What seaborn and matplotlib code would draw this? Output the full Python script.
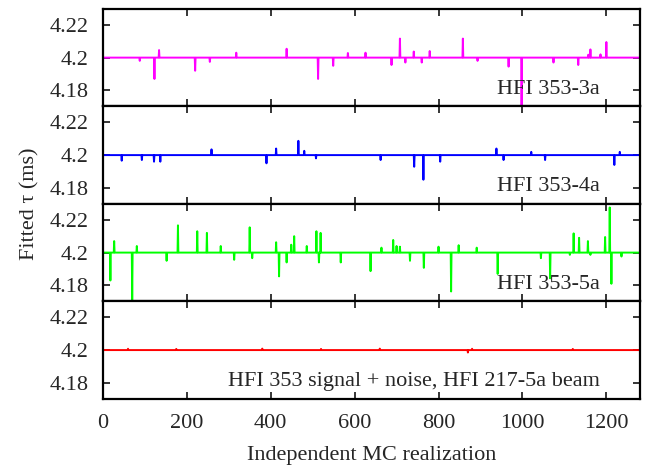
import numpy as np
import pandas as pd
import matplotlib
matplotlib.use("Agg")
import matplotlib.pyplot as plt
import seaborn as sns

# ---------------- data ----------------
n_real = 1280
baseline = 4.2

# HFI 353-3a
idx_3a = [88, 123, 134, 220, 255, 318, 438, 513, 549, 584, 626, 688, 708, 721, 741,
          760, 779, 858, 893, 967, 998, 1074, 1133, 1157, 1162, 1186, 1200]
val_3a = [4.198, 4.187, 4.2046, 4.192, 4.1974, 4.203, 4.2054, 4.187, 4.195, 4.2028,
          4.203, 4.1955, 4.2116, 4.197, 4.2037, 4.197, 4.204, 4.2116, 4.198, 4.1945,
          4.165, 4.197, 4.1955, 4.2018, 4.205, 4.202, 4.2095]

# HFI 353-4a
idx_4a = [45, 93, 122, 137, 259, 390, 413, 466, 480, 508, 662, 742, 764, 804, 938,
          955, 1021, 1054, 1219, 1232]
val_4a = [4.1966, 4.197, 4.196, 4.196, 4.2035, 4.195, 4.204, 4.2087, 4.2026, 4.198,
          4.197, 4.1929, 4.185, 4.196, 4.204, 4.197, 4.202, 4.197, 4.194, 4.202]

# HFI 353-5a
idx_5a = [18, 27, 70, 81, 152, 179, 225, 248, 281, 313, 350, 356, 413, 420, 438, 449,
          456, 486, 509, 515, 519, 567, 638, 664, 692, 700, 708, 732, 765, 800, 830,
          848, 891, 941, 1044, 1066, 1113, 1122, 1135, 1156, 1162, 1197, 1208, 1212, 1236]
val_5a = [4.183, 4.207, 4.171, 4.204, 4.195, 4.2166, 4.213, 4.212, 4.204, 4.1956,
          4.2154, 4.1966, 4.2063, 4.1855, 4.194, 4.2048, 4.21, 4.204, 4.213, 4.194,
          4.212, 4.194, 4.1887, 4.203, 4.2077, 4.204, 4.2036, 4.195, 4.1907, 4.2036,
          4.1763, 4.2045, 4.203, 4.187, 4.1966, 4.1843, 4.1986, 4.2117, 4.209, 4.207,
          4.1986, 4.2095, 4.2275, 4.181, 4.1976]

# HFI 353 signal + noise, HFI 217-5a beam
idx_217 = [60, 175, 380, 520, 660, 870, 880, 1120]
val_217 = [4.2008, 4.2007, 4.2009, 4.2007, 4.2009, 4.1985, 4.2008, 4.2007]

labels = ["HFI 353-3a", "HFI 353-4a", "HFI 353-5a",
          "HFI 353 signal + noise, HFI 217-5a beam"]
colors = ["#ff00ff", "#0000ff", "#00ff00", "#ff0000"]
spike_idx = [idx_3a, idx_4a, idx_5a, idx_217]
spike_val = [val_3a, val_4a, val_5a, val_217]

y_ticks = [4.18, 4.2, 4.22]
y_tick_labels = ["4.18", "4.2", "4.22"]
x_ticks = [0, 200, 400, 600, 800, 1000, 1200]

# ---------------- figure ----------------
sns.set_style("ticks")
plt.rcParams["font.family"] = ["Liberation Serif", "DejaVu Serif"]

fig, axes = plt.subplots(4, 1, figsize=(6.55, 4.67), dpi=100, sharex=True)
fig.subplots_adjust(left=0.157, right=0.977, top=0.981, bottom=0.146, hspace=0)

x = np.arange(n_real)
for ax, lab, col, si, sv in zip(axes, labels, colors, spike_idx, spike_val):
    y = np.full(n_real, baseline)
    y[np.array(si)] = np.array(sv)
    df = pd.DataFrame({"realization": x, "tau": y})
    sns.lineplot(data=df, x="realization", y="tau", ax=ax, color=col,
                 linewidth=1.4, estimator=None, legend=False)
    ax.set_xlim(0, 1280)
    ax.set_ylim(4.1703, 4.2297)
    ax.set_yticks(y_ticks)
    ax.set_yticklabels(y_tick_labels)
    ax.set_xticks(x_ticks)
    ax.set_xlabel("")
    ax.set_ylabel("")
    ax.tick_params(direction="in", top=True, right=True, length=5, width=1.3,
                   labelsize=16)
    ax.tick_params(axis="y", pad=10)
    ax.tick_params(axis="x", pad=11)
    for s in ax.spines.values():
        s.set_linewidth(1.6)
        s.set_color("black")
    ax.text(0.925, 0.175, lab, transform=ax.transAxes, ha="right", va="center",
            fontsize=16)

axes[-1].set_xlabel("Independent MC realization", fontsize=16, labelpad=9)
fig.text(0.045, 0.563, "Fitted τ (ms)", rotation=90, ha="center", va="center",
         fontsize=16)

fig.savefig("out.png", dpi=100)
